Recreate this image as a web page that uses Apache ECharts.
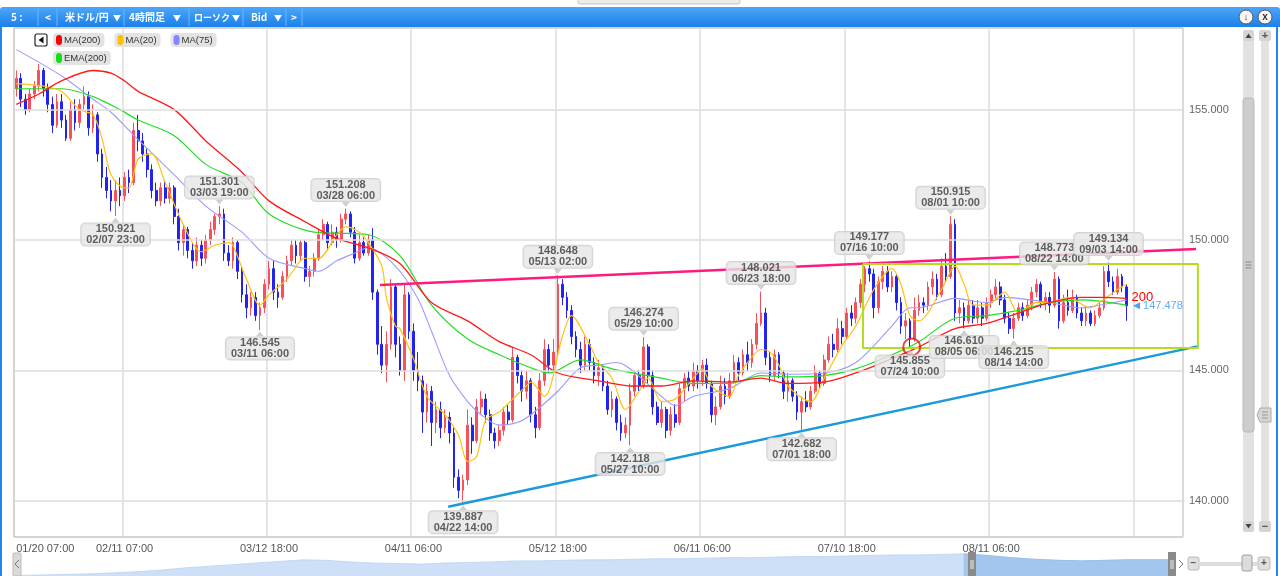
<!DOCTYPE html>
<html><head><meta charset="utf-8">
<script src="https://cdn.jsdelivr.net/npm/echarts@6/dist/echarts.min.js"></script>
<style>html,body{margin:0;padding:0;background:#fff;}#c{width:1280px;height:576px;}</style>
</head><body><div id="c"></div>
<script>
// ---------- data ----------
const tickLabels = ['01/20 07:00','02/11 07:00','03/12 18:00','04/11 06:00','05/12 18:00','06/11 06:00','07/10 18:00','08/11 06:00'];
const tickIndex = [0,24,56,88,120,152,184,216];
const gridIndex = [24,56,88,120,152,184,216,248];
const categoryCount = 259;
const yTicks = [140,145,150,155];
const yMin = 138.61, yMax = 158.13;

// each row: [open, close, low, high]
const ohlc = [
[155.8,156.2,155.5,156.5],[156.2,155.4,155.1,156.4],[155.4,155.0,154.8,155.6],[155.0,155.6,154.9,155.8],[155.6,155.9,155.4,156.1],
[155.9,156.5,155.7,156.75],[156.5,155.8,155.5,156.6],[155.8,155.2,154.9,156.0],[155.2,154.4,154.1,155.5],[154.4,155.3,154.3,155.6],
[155.3,154.6,154.3,155.6],[154.6,153.9,153.8,154.8],[153.9,155.0,153.8,155.3],[155.0,154.5,154.2,155.4],[154.5,155.2,154.3,155.4],
[155.2,155.5,155.0,155.9],[155.5,154.3,154.0,155.7],[154.3,154.8,154.1,155.2],[154.8,153.3,153.0,154.9],[153.3,152.4,152.0,153.5],
[152.4,151.9,151.6,152.8],[151.9,151.5,151.1,152.3],[151.5,151.9,150.921,152.3],[151.9,151.7,151.3,152.4],[151.7,152.4,151.5,152.6],
[152.4,152.2,151.8,152.7],[152.2,154.2,152.1,154.5],[154.2,153.8,153.4,154.8],[153.8,153.3,153.0,154.1],[153.3,152.7,152.4,153.5],
[152.7,151.9,151.6,152.9],[151.9,151.5,151.3,152.2],[151.5,152.0,151.3,152.2],[152.0,151.6,151.4,152.3],[151.6,152.0,151.4,152.2],
[152.0,150.9,150.6,152.1],[150.9,149.9,149.6,151.2],[149.9,150.4,149.4,150.6],[150.4,149.6,149.3,150.5],[149.6,149.2,148.9,149.9],
[149.2,149.8,149.0,150.1],[149.8,149.3,149.0,150.0],[149.3,150.0,149.1,150.2],[150.0,150.4,149.8,150.7],[150.4,150.9,150.2,151.0],
[150.9,151.0,150.6,151.301],[151.0,149.5,149.2,151.2],[149.5,149.2,149.0,149.8],[149.2,149.9,148.9,150.1],[149.9,148.8,148.5,150.0],
[148.8,147.9,147.6,149.0],[147.9,147.4,147.0,148.3],[147.4,147.8,147.1,148.0],[147.8,147.1,146.9,148.0],[147.1,147.4,146.545,147.6],
[147.4,148.3,147.2,148.5],[148.3,148.9,148.1,149.2],[148.9,148.0,147.7,149.2],[148.0,147.8,147.4,148.3],[147.8,148.6,147.7,148.8],
[148.6,149.2,148.4,149.4],[149.2,149.8,149.0,150.0],[149.8,149.4,149.1,150.0],[149.4,149.9,149.2,150.0],[149.9,148.6,148.4,150.0],
[148.6,148.8,148.2,149.0],[148.8,149.3,148.6,149.5],[149.3,150.2,149.2,150.4],[150.2,150.6,150.0,150.8],[150.6,149.9,149.6,150.7],
[149.9,150.3,149.8,150.6],[150.3,150.0,149.7,150.5],[150.0,150.8,149.9,151.0],[150.8,151.0,150.6,151.208],[151.0,150.3,150.1,151.1],
[150.3,149.3,149.1,150.5],[149.3,149.9,149.2,150.2],[149.9,149.5,149.4,150.1],[149.5,150.0,149.4,150.2],[150.0,148.0,147.7,150.45],
[148.0,146.0,145.6,148.1],[146.0,145.2,144.9,146.7],[145.2,146.0,144.55,146.5],[146.0,148.2,145.8,148.5],[148.2,146.0,145.5,148.3],
[146.0,145.0,144.8,146.3],[145.0,147.9,144.6,148.3],[147.9,146.5,146.2,148.0],[146.5,145.0,144.6,146.8],[145.0,144.6,144.2,145.7],
[144.6,143.4,142.6,144.8],[143.4,144.2,143.0,144.5],[144.2,143.0,142.1,144.4],[143.0,143.5,142.6,143.8],[143.5,142.8,142.4,143.8],
[142.8,143.2,142.6,143.5],[143.2,142.6,142.2,143.4],[142.6,140.9,140.5,142.8],[140.9,140.4,140.1,141.2],[140.4,140.8,139.887,141.0],
[140.8,142.9,140.6,143.5],[142.9,142.3,141.8,143.2],[142.3,143.6,142.2,143.9],[143.6,143.9,143.3,144.2],[143.9,143.3,143.0,144.1],
[143.3,142.6,142.3,143.5],[142.6,142.3,142.0,142.8],[142.3,142.7,142.1,142.9],[142.7,143.4,142.5,143.6],[143.4,143.1,142.9,143.7],
[143.1,145.5,143.0,145.9],[145.5,144.8,144.5,145.6],[144.8,144.2,143.8,145.0],[144.2,144.6,143.9,145.0],[144.6,143.3,143.0,144.7],
[143.3,142.8,142.4,143.6],[142.8,144.6,142.7,144.9],[144.6,145.8,144.4,146.2],[145.8,145.2,144.9,146.0],[145.2,145.7,145.0,146.2],
[145.7,148.3,145.5,148.648],[148.3,147.8,147.5,148.5],[147.8,147.3,147.0,148.0],[147.3,146.3,146.0,147.5],[146.3,145.8,145.5,146.5],
[145.8,145.2,144.9,146.1],[145.2,146.0,145.0,146.3],[146.0,145.3,145.0,146.2],[145.3,144.8,144.5,145.5],[144.8,145.1,144.4,145.4],
[145.1,144.4,144.2,145.2],[144.4,143.5,143.3,144.6],[143.5,143.9,143.2,144.2],[143.9,143.0,142.7,144.0],[143.0,142.6,142.3,143.3],
[142.6,142.9,142.4,143.2],[142.9,144.2,142.118,144.5],[144.2,144.8,144.0,145.0],[144.8,144.4,144.2,145.0],[144.4,145.9,144.3,146.274],
[145.9,144.8,144.5,146.0],[144.8,143.6,143.3,145.0],[143.6,143.0,142.9,143.8],[143.0,143.5,142.8,143.8],[143.5,142.7,142.4,143.6],
[142.7,143.3,142.5,143.6],[143.3,143.0,142.8,143.7],[143.0,144.3,142.9,144.5],[144.3,144.7,143.8,144.9],[144.7,144.4,144.2,145.0],
[144.4,145.0,144.2,145.3],[145.0,144.6,144.3,145.2],[144.6,145.2,144.4,145.4],[145.2,144.5,144.3,145.45],[144.5,143.3,143.0,144.6],
[143.3,143.6,142.9,144.0],[143.6,144.4,143.5,144.8],[144.4,144.0,143.7,144.7],[144.0,144.6,143.9,144.9],[144.6,145.3,144.5,145.6],
[145.3,144.9,144.6,145.5],[144.9,145.6,144.8,145.8],[145.6,145.3,145.0,146.1],[145.3,146.0,145.1,146.2],[146.0,146.8,145.8,147.2],
[146.8,147.2,146.7,148.021],[147.2,145.5,145.2,147.4],[145.5,144.8,144.55,145.7],[144.8,145.6,144.6,145.8],[145.6,144.9,144.7,145.7],
[144.9,144.2,143.9,145.0],[144.2,144.6,143.8,144.9],[144.6,144.0,143.8,144.7],[144.0,143.4,143.1,144.2],[143.4,143.8,142.682,144.0],
[143.8,143.6,143.4,144.2],[143.6,144.2,143.5,144.4],[144.2,144.9,144.1,145.2],[144.9,144.5,144.3,145.0],[144.5,145.4,144.4,145.6],
[145.4,146.0,145.3,146.3],[146.0,145.8,145.5,146.4],[145.8,146.6,145.7,147.0],[146.6,146.3,146.0,146.9],[146.3,147.2,146.2,147.4],
[147.2,147.0,146.7,147.5],[147.0,147.6,146.8,147.8],[147.6,148.3,147.4,148.5],[148.3,148.9,148.0,149.0],[148.9,148.7,148.4,149.177],
[148.7,147.4,147.0,148.9],[147.4,148.4,147.2,148.6],[148.4,148.8,148.1,149.0],[148.8,148.2,148.0,149.0],[148.2,148.6,148.0,148.8],
[148.6,147.6,147.3,148.7],[147.6,146.7,146.4,147.8],[146.7,146.9,146.2,147.2],[146.9,146.2,145.855,147.0],[146.2,147.3,146.1,147.8],
[147.3,147.6,147.1,147.9],[147.6,147.5,147.2,147.8],[147.5,148.2,147.3,148.4],[148.2,148.5,147.9,148.8],[148.5,147.9,147.7,148.7],
[147.9,149.0,147.8,149.3],[149.0,148.6,148.4,149.5],[148.6,150.6,148.5,150.915],[150.6,147.2,146.9,150.8],[147.2,147.4,146.8,147.7],
[147.4,146.9,146.61,147.6],[146.9,147.5,146.8,147.7],[147.5,147.0,146.8,147.7],[147.0,147.4,146.8,147.7],[147.4,147.0,146.7,147.6],
[147.0,147.6,146.9,147.8],[147.6,147.9,147.4,148.1],[147.9,148.2,147.7,148.5],[148.2,147.7,147.5,148.4],[147.7,147.0,146.8,147.9],
[147.0,146.6,146.4,147.2],[146.6,147.0,146.215,147.2],[147.0,147.4,146.9,147.6],[147.4,147.1,146.9,147.6],[147.1,147.5,147.0,147.7],
[147.5,148.0,147.3,148.2],[148.0,148.3,147.8,148.5],[148.3,147.6,147.4,148.4],[147.6,147.8,147.3,148.0],[147.8,147.5,147.2,148.0],
[147.5,148.5,147.4,148.773],[148.5,146.9,146.6,148.6],[146.9,147.6,146.8,147.9],[147.6,147.3,147.1,148.1],[147.3,147.8,147.2,148.1],
[147.8,147.2,147.0,147.9],[147.2,146.9,146.7,147.4],[146.9,147.2,146.7,147.4],[147.2,146.8,146.7,147.3],[146.8,147.1,146.7,147.3],
[147.1,147.4,147.0,147.6],[147.4,148.8,147.3,149.0],[148.8,148.4,148.2,149.134],[148.4,148.0,147.9,148.6],[148.0,148.6,147.9,148.9],
[148.6,148.2,148.0,148.7],[148.2,147.478,146.9,148.3]
];

// moving averages: [candle index, price]
const ma200 = [[0,155.2],[5,155.6],[10,156.1],[17,156.5],[21,156.4],[24,156.1],[27,155.7],[35,155.0],[42,153.8],[50,152.6],[56,151.5],[64,150.7],[71,150.06],[78,149.7],[85,149.1],[92,147.6],[100,146.9],[107,146.1],[114,145.6],[120,144.9],[129,144.6],[132,144.5],[136,144.4],[143,144.4],[150,144.6],[158,144.55],[165,144.7],[171,144.5],[179,144.55],[186,144.9],[194,145.45],[200,145.9],[208,146.6],[215,146.8],[222,147.2],[229,147.6],[236,147.8],[240,147.8],[246,147.76]];
const ema200 = [[0,155.8],[10,155.8],[17,155.5],[23,155.0],[27,154.6],[35,154.0],[42,152.9],[50,152.2],[56,151.0],[66,150.3],[71,150.26],[78,150.2],[85,149.4],[92,147.5],[100,146.2],[107,145.6],[114,145.1],[118,144.9],[125,145.4],[132,145.06],[143,144.7],[150,144.5],[158,144.5],[165,144.8],[171,144.75],[179,144.8],[186,145.06],[194,145.6],[200,146.1],[208,147.0],[215,147.1],[222,147.3],[229,147.6],[236,147.7],[246,147.5]];
const ma75 = [[0,157.3],[10,156.3],[17,155.4],[21,154.9],[25,154.2],[27,153.85],[35,152.5],[42,151.3],[50,150.3],[56,149.3],[64,148.9],[67,148.8],[71,149.2],[75,149.5],[78,149.7],[84,149.0],[89,147.75],[92,146.5],[96,144.8],[100,143.8],[103,143.3],[107,142.9],[111,143.0],[114,143.3],[120,144.2],[125,145.1],[129,145.2],[133,145.3],[136,145.06],[143,144.0],[146,143.65],[150,144.0],[158,144.3],[165,144.9],[171,144.85],[179,144.9],[186,145.3],[194,146.7],[198,147.4],[200,147.4],[208,147.76],[215,147.6],[219,147.8],[222,147.76],[229,147.6],[236,147.4],[240,147.5],[246,147.7]];
const ma20 = [[0,156.0],[6,155.9],[10,155.7],[14,155.0],[17,154.8],[19,153.9],[21,152.5],[24,152.0],[25,152.0],[27,153.1],[30,153.3],[33,152.2],[37,150.6],[41,149.55],[44,149.8],[47,149.9],[48,149.8],[51,148.5],[54,147.5],[56,147.9],[60,148.5],[64,149.3],[67,149.3],[71,150.2],[73,150.5],[76,150.3],[78,149.9],[81,149.0],[82,147.8],[84,146.7],[85,146.6],[88,145.45],[91,144.0],[95,143.3],[98,142.5],[100,141.5],[102,141.7],[104,143.1],[107,143.4],[110,143.9],[113,144.4],[114,144.55],[117,144.0],[121,146.3],[123,147.1],[127,146.0],[129,145.3],[132,144.7],[135,143.5],[138,144.2],[140,144.7],[143,143.8],[146,143.9],[150,144.7],[152,145.06],[154,144.4],[158,144.0],[160,144.8],[162,145.3],[165,145.8],[167,145.7],[169,145.2],[171,144.4],[176,143.8],[179,144.7],[183,145.96],[186,146.7],[190,148.1],[194,148.9],[196,148.3],[198,147.1],[200,146.9],[205,148.1],[208,149.0],[210,148.3],[212,147.5],[215,147.5],[219,148.0],[222,147.2],[226,147.6],[229,147.6],[233,147.8],[238,147.4],[240,147.6],[244,148.1],[246,148.3]];

// annotated extremes: [candle index, price, time]
const highs = [[45,151.301,'03/03 19:00'],[73,151.208,'03/28 06:00'],[120,148.648,'05/13 02:00'],[139,146.274,'05/29 10:00'],[165,148.021,'06/23 18:00'],[189,149.177,'07/16 10:00'],[207,150.915,'08/01 10:00'],[230,148.773,'08/22 14:00'],[242,149.134,'09/03 14:00']];
const lows = [[22,150.921,'02/07 23:00'],[54,146.545,'03/11 06:00'],[99,139.887,'04/22 14:00'],[136,142.118,'05/27 10:00'],[174,142.682,'07/01 18:00'],[198,145.855,'07/24 10:00'],[210,146.610,'08/05 06:00'],[221,146.215,'08/14 14:00']];

// drawings: [candle index, price]
const resistLine = [[80.6,148.27],[261.4,149.65]];
const supportLine = [[95.7,139.77],[262.0,145.93]];
const boxLeft = 187.6, boxRight = 261.8, boxTop = 149.08, boxBottom = 145.86;
const circleMark = [198.4,145.9];

// navigator (overview) heights
const navValues = [0.5,1,1.5,2,3,4,5.5,7.5,9,10.5,12,13.5,15,14.5,13,12,11.5,11,12,12.5,13,14,14,14.5,15,15,15.5,16,16,16.5,17,17,17.5,18,18,18.5,19,19.5,19.5,20,20.5,19,17,15.5,14.5,14,14.5,15,15,15];
const navSelStart = 40;

// ---------- chart ----------
const FONT = "'Liberation Sans', Arial, sans-serif";
const JP = "'Noto Sans CJK JP', sans-serif";
const PLOT = {left:14, top:28, width:1169, height:509};
const drawMax = 265.5; // overlay axis extends past the plot so drawings can run over the edge
const categories = [];
for (let i = 0; i < categoryCount; i++) {
  const t = tickIndex.indexOf(i);
  categories.push(t >= 0 ? tickLabels[t] : String(i));
}
const lastClose = ohlc[ohlc.length - 1][1];
const lastIdx = ohlc.length - 1;
const boxPath = [[boxLeft,boxTop],[boxRight,boxTop],[boxRight,boxBottom],[boxLeft,boxBottom],[boxLeft,boxTop]];

const legendKey = {'MA(200)':'r','MA(20)':'y','MA(75)':'b','EMA(200)':'g'};
const legendText = {
  fontFamily: FONT, fontSize: 9.5, color: '#333',
  backgroundColor: '#e3e3e3', borderRadius: 4, padding: [2,4,2,3],
  rich: {
    r:{width:6,height:10,backgroundColor:'#ff0000',borderRadius:3},
    y:{width:6,height:10,backgroundColor:'#ffc000',borderRadius:3},
    b:{width:6,height:10,backgroundColor:'#8585ff',borderRadius:3},
    g:{width:6,height:10,backgroundColor:'#11e011',borderRadius:3},
    t:{fontSize:9.5,color:'#333',fontFamily:FONT,padding:[0,0,0,2]}
  }
};
const legendFmt = n => '{' + legendKey[n] + '|}{t|' + n + '}';

const annLabel = {
  show: true, distance: 1,
  backgroundColor: '#e6e6e6', borderColor: '#c9c9c9', borderWidth: 1, borderRadius: 4,
  padding: [0,5,0,5], color: '#3a3a3a', fontSize: 11, lineHeight: 11, fontWeight: 'bold',
  fontFamily: FONT, align: 'center',
  formatter: p => p.data.value[1].toFixed(3) + '\n' + p.data.date
};

const white = '#ffffff';
const sep = x => ({type:'line', shape:{x1:x,y1:9,x2:x,y2:26}, style:{stroke:'#6cb5f9',lineWidth:1}});
const tbText = (x, t, size) => ({type:'text', x:x, y:17.5, style:{text:t, fill:white, font:'bold ' + (size||10) + 'px ' + JP, verticalAlign:'middle'}});

const graphics = [
  {type:'rect', shape:{x:578,y:-3,width:162,height:7,r:2}, style:{fill:'#ececec',stroke:'#c4c4c4'}},
  {type:'rect', shape:{x:0,y:7,width:1280,height:20,r:[3,3,0,0]}, style:{fill:new echarts.graphic.LinearGradient(0,0,0,1,[{offset:0,color:'#4ea6f8'},{offset:1,color:'#1b80ea'}])}},
  {type:'line', shape:{x1:1,y1:27,x2:1,y2:576}, style:{stroke:'#2286ee',lineWidth:2}},
  {type:'line', shape:{x1:1277,y1:27,x2:1277,y2:576}, style:{stroke:'#2286ee',lineWidth:2}},
  tbText(11,'5 :',10), sep(38), tbText(45,'<',10), sep(57),
  tbText(65,'米ドル/円',10), tbText(113,'▼',8), sep(124),
  tbText(129,'4時間足',10), tbText(173,'▼',8), sep(189),
  tbText(194,'ローソク',9), tbText(232,'▼',8), sep(243),
  tbText(251,'Bid',10), tbText(274,'▼',8), sep(286),
  tbText(291,'>',10), sep(302),
  {type:'circle', shape:{cx:1246,cy:17,r:7}, style:{fill:'#f6f6f6',stroke:'#555',lineWidth:1}},
  {type:'text', x:1246, y:17.5, style:{text:'↓', fill:'#333', font:'bold 9px ' + FONT, align:'center', verticalAlign:'middle'}},
  {type:'circle', shape:{cx:1265,cy:17,r:7}, style:{fill:'#f6f6f6',stroke:'#555',lineWidth:1}},
  {type:'text', x:1265, y:17, style:{text:'x', fill:'#333', font:'bold 10px ' + FONT, align:'center', verticalAlign:'middle'}},
  // legend back button
  {type:'rect', shape:{x:35,y:34,width:12,height:12,r:2}, style:{fill:'#fff',stroke:'#222',lineWidth:1.2}},
  {type:'polygon', shape:{points:[[43.5,36.5],[43.5,43.5],[38.5,40]]}, style:{fill:'#111'}},
  // vertical scrollbar
  {type:'rect', shape:{x:1243,y:30,width:11,height:502,r:3}, style:{fill:'#e2e2e2'}},
  {type:'rect', shape:{x:1243,y:98,width:11,height:334,r:3}, style:{fill:'#cdcdcd',stroke:'#b8b8b8'}},
  {type:'line', shape:{x1:1245.5,y1:262,x2:1251.5,y2:262}, style:{stroke:'#8a8a8a'}},
  {type:'line', shape:{x1:1245.5,y1:265,x2:1251.5,y2:265}, style:{stroke:'#8a8a8a'}},
  {type:'line', shape:{x1:1245.5,y1:268,x2:1251.5,y2:268}, style:{stroke:'#8a8a8a'}},
  {type:'rect', shape:{x:1243,y:30,width:11,height:11,r:2}, style:{fill:'#d4d4d4'}},
  {type:'polygon', shape:{points:[[1245.5,38],[1251.5,38],[1248.5,33.5]]}, style:{fill:'#444'}},
  {type:'rect', shape:{x:1243,y:521,width:11,height:11,r:2}, style:{fill:'#d4d4d4'}},
  {type:'polygon', shape:{points:[[1245.5,524],[1251.5,524],[1248.5,528.5]]}, style:{fill:'#444'}},
  {type:'rect', shape:{x:1261,y:30,width:8,height:502,r:3}, style:{fill:'#e2e2e2'}},
  {type:'rect', shape:{x:1259,y:30,width:12,height:11,r:2}, style:{fill:'#d4d4d4'}},
  {type:'text', x:1265, y:35.5, style:{text:'+', fill:'#555', font:'bold 11px ' + FONT, align:'center', verticalAlign:'middle'}},
  {type:'rect', shape:{x:1259,y:521,width:12,height:11,r:2}, style:{fill:'#d4d4d4'}},
  {type:'text', x:1265, y:526.5, style:{text:'−', fill:'#555', font:'bold 11px ' + FONT, align:'center', verticalAlign:'middle'}},
  {type:'polygon', shape:{points:[[1257,415],[1260,408],[1271,408],[1271,422],[1260,422]]}, style:{fill:'#d6d6d6',stroke:'#aaa'}},
  {type:'line', shape:{x1:1262,y1:412,x2:1268,y2:412}, style:{stroke:'#999'}},
  {type:'line', shape:{x1:1262,y1:415,x2:1268,y2:415}, style:{stroke:'#999'}},
  {type:'line', shape:{x1:1262,y1:418,x2:1268,y2:418}, style:{stroke:'#999'}},
  // navigator chrome
  {type:'rect', z:10, shape:{x:13,y:553,width:8,height:23,r:1}, style:{fill:'#dadada',stroke:'#bbb'}},
  {type:'polyline', z:10, shape:{points:[[19,560],[15,564],[19,568]]}, style:{stroke:'#777',fill:null}},
  {type:'rect', z:10, shape:{x:968,y:552,width:8,height:24}, style:{fill:'#8a8a8a'}},
  {type:'line', z:11, shape:{x1:971,y1:560,x2:971,y2:569}, style:{stroke:'#eee'}},
  {type:'line', z:11, shape:{x1:973,y1:560,x2:973,y2:569}, style:{stroke:'#eee'}},
  {type:'rect', z:10, shape:{x:1168,y:552,width:8,height:24}, style:{fill:'#8a8a8a'}},
  {type:'line', z:11, shape:{x1:1171,y1:560,x2:1171,y2:569}, style:{stroke:'#eee'}},
  {type:'line', z:11, shape:{x1:1173,y1:560,x2:1173,y2:569}, style:{stroke:'#eee'}},
  {type:'polyline', z:10, shape:{points:[[1179,560],[1183,564],[1179,568]]}, style:{stroke:'#777',fill:null}},
  {type:'rect', shape:{x:1188,y:557,width:11,height:13,r:2}, style:{fill:'#e0e0e0',stroke:'#bbb'}},
  {type:'text', x:1193.5, y:563.5, style:{text:'−', fill:'#555', font:'bold 10px ' + FONT, align:'center', verticalAlign:'middle'}},
  {type:'rect', shape:{x:1199,y:562,width:58,height:4}, style:{fill:'#dedede'}},
  {type:'rect', shape:{x:1242,y:555,width:10,height:16,r:2}, style:{fill:'#dcdcdc',stroke:'#a0a0a0'}},
  {type:'rect', shape:{x:1258,y:557,width:12,height:13,r:2}, style:{fill:'#e0e0e0',stroke:'#bbb'}},
  {type:'text', x:1264, y:563.5, style:{text:'+', fill:'#555', font:'bold 10px ' + FONT, align:'center', verticalAlign:'middle'}}
];

const option = {
  animation: false,
  backgroundColor: '#ffffff',
  textStyle: {fontFamily: FONT},
  graphic: graphics,
  legend: [
    {data:['MA(200)','MA(20)','MA(75)'], left:47, top:33, padding:0, itemWidth:0, itemHeight:0, itemGap:4, selectedMode:false, textStyle:legendText, formatter:legendFmt},
    {data:['EMA(200)'], left:47, top:51, padding:0, itemWidth:0, itemHeight:0, itemGap:4, selectedMode:false, textStyle:legendText, formatter:legendFmt}
  ],
  grid: [
    {left:PLOT.left, top:PLOT.top, width:PLOT.width, height:PLOT.height, show:true, borderColor:'#a9a9a9', borderWidth:1, backgroundColor:'#fff'},
    {left:20, top:549, width:1156, height:27, show:false},
    {left:PLOT.left, top:PLOT.top, width:PLOT.width * (drawMax + 0.5) / categoryCount, height:PLOT.height, show:false}
  ],
  xAxis: [
    {type:'category', gridIndex:0, data:categories, boundaryGap:true,
     axisLine:{show:false}, axisTick:{show:false},
     axisLabel:{interval:(i)=>tickIndex.includes(i), color:'#555', fontSize:11, fontFamily:FONT, margin:6, alignMinLabel:'left'},
     splitLine:{show:true, interval:(i)=>gridIndex.includes(i), lineStyle:{color:'#dcdcdc', width:1.5}}},
    {type:'value', gridIndex:0, min:-0.5, max:categoryCount-0.5, show:false, position:'top'},
    {type:'value', gridIndex:1, min:0, max:navValues.length-1, show:false},
    {type:'value', gridIndex:2, min:-0.5, max:drawMax, show:false, position:'top'}
  ],
  yAxis: [
    {type:'value', gridIndex:0, position:'right', min:yMin, max:yMax,
     axisLine:{show:false}, axisTick:{show:false}, splitLine:{show:false},
     axisLabel:{customValues:yTicks, color:'#666', fontSize:11, fontFamily:FONT, margin:6,
       formatter:v => (Math.abs(v/5 - Math.round(v/5)) < 1e-6 ? v.toFixed(3) : '')}},
    {type:'value', gridIndex:1, min:0, max:25, show:false},
    {type:'value', gridIndex:2, min:yMin, max:yMax, show:false}
  ],
  series: [
    {type:'line', name:'grid', xAxisIndex:1, yAxisIndex:0, data:[], z:1, silent:true,
     markLine:{silent:true, symbol:['none','none'], label:{show:false}, animation:false,
       lineStyle:{color:'#dcdcdc', width:1.5, type:'solid'},
       data: yTicks.map(v => ({yAxis:v}))}},
    {type:'candlestick', name:'USD/JPY', xAxisIndex:0, yAxisIndex:0, data:ohlc, barWidth:'50%', z:3,
     itemStyle:{color:'#f4515c', color0:'#2323ee', borderColor:'#f4515c', borderColor0:'#2323ee', borderWidth:1}},
    {type:'line', name:'MA(75)', xAxisIndex:1, yAxisIndex:0, data:ma75, smooth:0.3, symbol:'none', z:4,
     lineStyle:{color:'#9a9aff', width:1.1}, itemStyle:{color:'#8585ff'}},
    {type:'line', name:'EMA(200)', xAxisIndex:1, yAxisIndex:0, data:ema200, smooth:0.3, symbol:'none', z:4,
     lineStyle:{color:'#22dd22', width:1.2}, itemStyle:{color:'#11e011'}},
    {type:'line', name:'MA(20)', xAxisIndex:1, yAxisIndex:0, data:ma20, smooth:0.3, symbol:'none', z:4,
     lineStyle:{color:'#ffc20e', width:1.2}, itemStyle:{color:'#ffc000'}},
    {type:'line', name:'MA(200)', xAxisIndex:1, yAxisIndex:0, data:ma200, smooth:0.3, symbol:'none', z:4,
     lineStyle:{color:'#ff1a1a', width:1.3}, itemStyle:{color:'#ff0000'},
     endLabel:{show:true, formatter:'200', color:'#ff0000', fontSize:13, fontFamily:FONT, distance:5, offset:[0,-1]}},
    {type:'line', name:'resist', xAxisIndex:3, yAxisIndex:2, data:resistLine, symbol:'none', clip:false, z:6,
     lineStyle:{color:'#ff1a80', width:2.5}},
    {type:'line', name:'support', xAxisIndex:3, yAxisIndex:2, data:supportLine, symbol:'none', clip:false, z:6,
     lineStyle:{color:'#1a9ad8', width:2.5}},
    {type:'line', name:'box', xAxisIndex:3, yAxisIndex:2, data:boxPath, symbol:'none', clip:false, z:6,
     lineStyle:{color:'#b3dc1e', width:2}},
    {type:'scatter', name:'circle', xAxisIndex:1, yAxisIndex:0, data:[circleMark], symbol:'circle', symbolSize:17, z:7,
     itemStyle:{color:'rgba(0,0,0,0)', borderColor:'#e41414', borderWidth:2}},
    {type:'scatter', name:'highs', xAxisIndex:1, yAxisIndex:0, z:10,
     data: highs.map(d => ({value:[d[0], d[1]], date:d[2]})),
     symbol:'triangle', symbolSize:[8,5], symbolRotate:180, symbolOffset:[0,-4],
     itemStyle:{color:'#c4c4c4'}, label:Object.assign({position:'top'}, annLabel)},
    {type:'scatter', name:'lows', xAxisIndex:1, yAxisIndex:0, z:10,
     data: lows.map(d => ({value:[d[0], d[1]], date:d[2]})),
     symbol:'triangle', symbolSize:[8,5], symbolOffset:[0,4],
     itemStyle:{color:'#c4c4c4'}, label:Object.assign({position:'bottom'}, annLabel)},
    {type:'scatter', name:'last', xAxisIndex:1, yAxisIndex:0, z:8,
     data:[[lastIdx, lastClose]], symbol:'triangle', symbolRotate:90, symbolSize:[7,7], symbolOffset:[10,0],
     itemStyle:{color:'#1a8fe8'},
     label:{show:true, position:'right', distance:3, formatter:p => p.value[1].toFixed(3), color:'#3399ff', fontSize:11, fontFamily:FONT}},
    {type:'line', name:'nav', xAxisIndex:2, yAxisIndex:1, data:navValues.map((v,i)=>[i,v]), symbol:'none', silent:true,
     lineStyle:{color:'#b9d3f2', width:0.8}, areaStyle:{color:'#cde0f7', opacity:1}},
    {type:'line', name:'navSel', xAxisIndex:2, yAxisIndex:1, data:navValues.map((v,i)=>[i,v]).filter(d=>d[0]>=navSelStart), symbol:'none', silent:true,
     lineStyle:{color:'#8fb8ea', width:0.8}, areaStyle:{color:'#a3c6ef', opacity:1}}
  ]
};
const chart = echarts.init(document.getElementById('c'), null, {renderer:'canvas'});
chart.setOption(option);
</script></body></html>
